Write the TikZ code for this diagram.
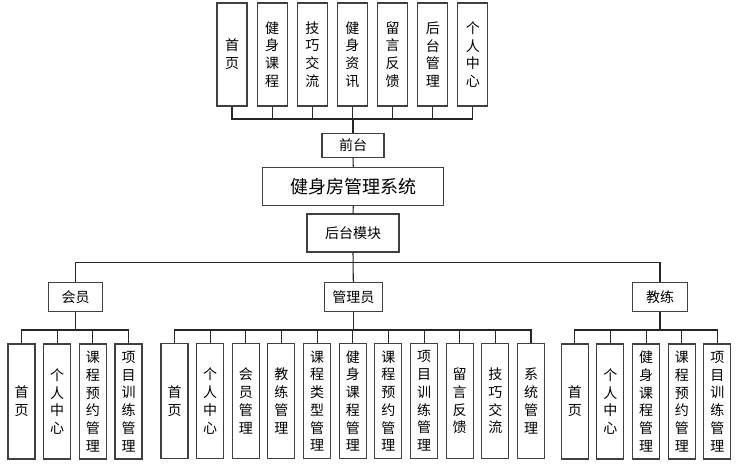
\documentclass[tikz,border=0pt]{standalone}
\usepackage{fontspec}
\setmainfont{Noto Sans CJK SC}
\begin{document}
\begin{tikzpicture}[x=0.75pt,y=-0.75pt,
  box/.style={draw=black!75,line width=0.8pt,fill=white,inner sep=0pt,align=center,
    font=\fontsize{10.5}{13.3}\selectfont},
  topbox/.style={box,minimum width=22.5pt,minimum height=77.25pt},
  botbox/.style={box,minimum width=20.25pt,minimum height=86.25pt},
  rolebox/.style={box,minimum height=21.75pt},
  link/.style={draw=black!85,line width=0.8pt}]
\useasboundingbox (0,0) rectangle (742,471);
% top modules
\foreach \t [count=\i from 0] in {首\\页,健\\身\\课\\程,技\\巧\\交\\流,健\\身\\资\\讯,留\\言\\反\\馈,后\\台\\管\\理,个\\人\\中\\心}{
  \node[topbox] (t\i) at ({232+40.15*\i},54.5) {\t};
}
\node[box,minimum width=46.5pt,minimum height=18pt] (qt) at (353,145.3) {前台};
\node[box,minimum width=135.75pt,minimum height=28.5pt,font=\fontsize{13.5}{16}\selectfont] (sys) at (353.3,186.5) {健身房管理系统};
\node[box,minimum width=69pt,minimum height=28.5pt] (ht) at (353,233) {后台模块};
\coordinate (bus1) at (353,119);
\foreach \i in {0,...,6}{
  \draw[link] (t\i.south) -- (t\i.south |- bus1) -| (qt.north);
}
\draw[link] (qt.south) -- (sys.north);
\draw[link] (sys.south) -- (ht.north);
% roles
\node[rolebox,minimum width=40.5pt] (hy) at (75.5,297) {会员};
\node[rolebox,minimum width=43.5pt] (gly) at (353.3,297) {管理员};
\node[rolebox,minimum width=41.25pt] (jl) at (660,297) {教练};
\coordinate (mb) at (353,262.3);
\draw[link] (ht.south) -- (gly.north);
\draw[link] (hy.north) -- (hy.north |- mb) -| (jl.north);
\coordinate (sb) at (0,330);
% member children
\foreach \t [count=\i from 0] in {首\\页,个\\人\\中\\心,课\\程\\预\\约\\管\\理,项\\目\\训\\练\\管\\理}{
  \node[botbox] (m\i) at ({21.5+35.67*\i},401.5) {\t};
  \draw[link] (m\i.north) -- (m\i.north |- sb) -| (hy.south);
}
% admin children
\foreach \t [count=\i from 0] in {首\\页,个\\人\\中\\心,会\\员\\管\\理,教\\练\\管\\理,课\\程\\类\\型\\管\\理,健\\身\\课\\程\\管\\理,课\\程\\预\\约\\管\\理,项\\目\\训\\练\\管\\理,留\\言\\反\\馈,技\\巧\\交\\流,系\\统\\管\\理}{
  \node[botbox] (a\i) at ({174.5+35.65*\i},401) {\t};
  \draw[link] (a\i.north) -- (a\i.north |- sb) -| (gly.south);
}
% coach children
\foreach \t [count=\i from 0] in {首\\页,个\\人\\中\\心,健\\身\\课\\程\\管\\理,课\\程\\预\\约\\管\\理,项\\目\\训\\练\\管\\理}{
  \node[botbox] (c\i) at ({574.8+35.65*\i},401.5) {\t};
  \draw[link] (c\i.north) -- (c\i.north |- sb) -| (jl.south);
}
\end{tikzpicture}
\end{document}
